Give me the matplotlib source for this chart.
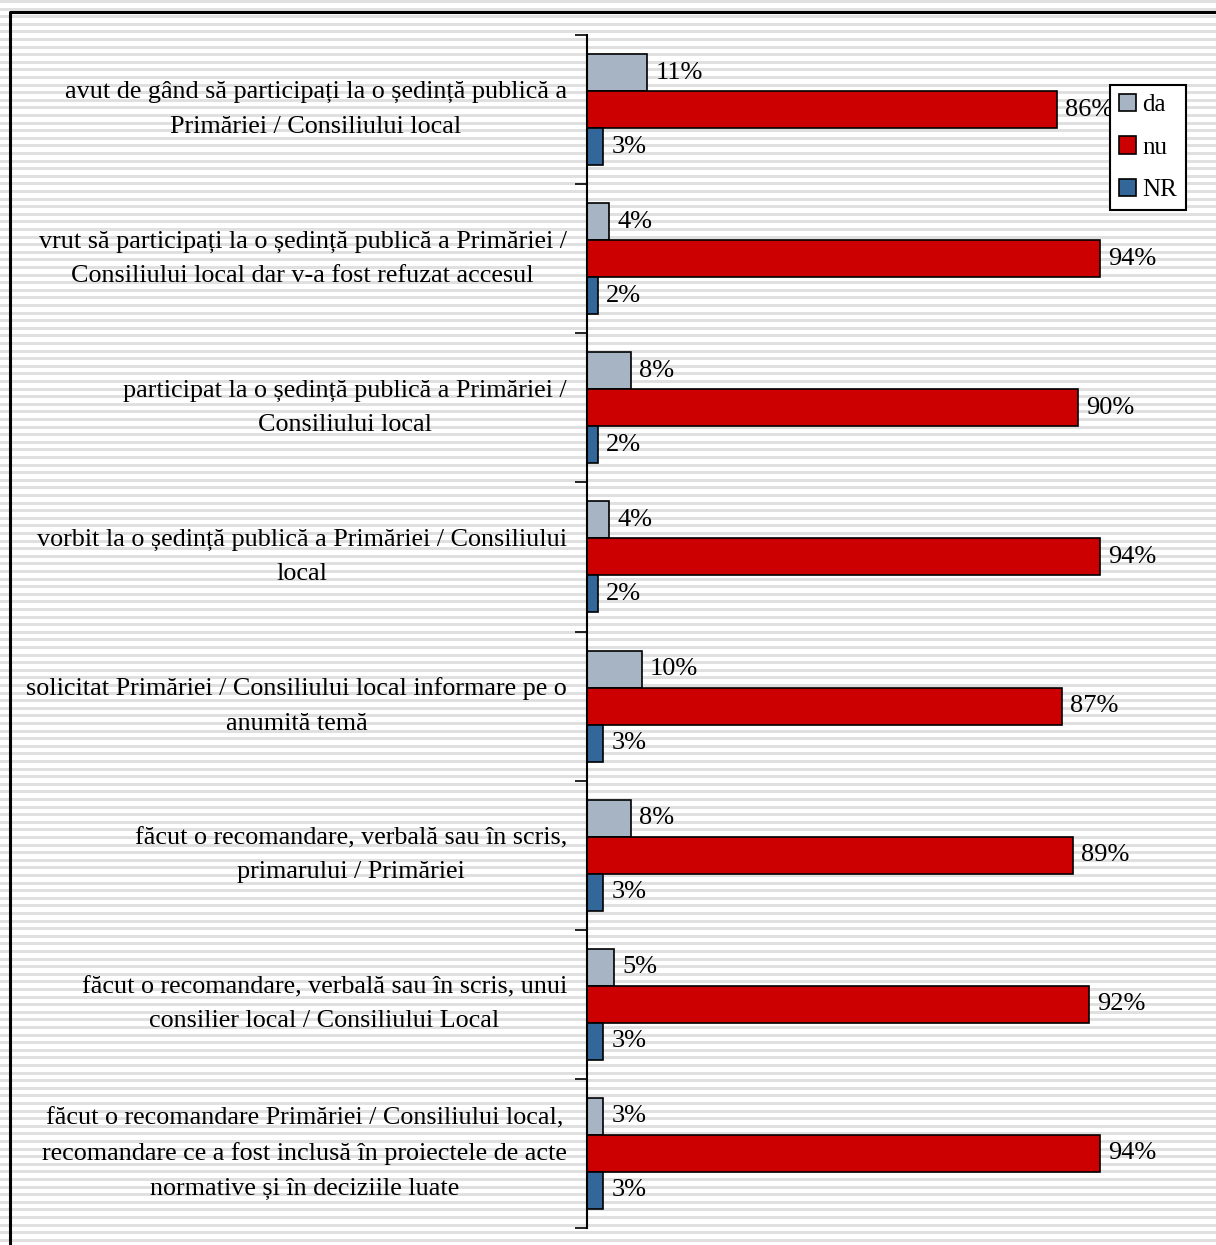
import matplotlib.pyplot as plt
import numpy as np
from matplotlib.patches import Rectangle

categories = [
    "avut de gând să participați la o ședință publică a\nPrimăriei / Consiliului local",
    "vrut să participați la o ședință publică a Primăriei /\nConsiliului local dar v-a fost refuzat accesul",
    "participat la o ședință publică a Primăriei /\nConsiliului local",
    "vorbit la o ședință publică a Primăriei / Consiliului\nlocal",
    "solicitat Primăriei / Consiliului local informare pe o\nanumită temă",
    "făcut o recomandare, verbală sau în scris,\nprimarului / Primăriei",
    "făcut o recomandare, verbală sau în scris, unui\nconsilier local / Consiliului Local",
    "făcut o recomandare Primăriei / Consiliului local,\nrecomandare ce a fost inclusă în proiectele de acte\nnormative și în deciziile luate",
]
da = [11, 4, 8, 4, 10, 8, 5, 3]
nu = [86, 94, 90, 94, 87, 89, 92, 94]
nr = [3, 2, 2, 2, 3, 3, 3, 3]
series = [("da", da, "#A6B4C3"), ("nu", nu, "#CC0000"), ("NR", nr, "#336699")]

plt.rcParams['font.family'] = ['Liberation Serif', 'DejaVu Serif']

W, H = 1216, 1245
fig = plt.figure(figsize=(W / 100, H / 100), dpi=100)

# striped background
bg = fig.add_axes([0, 0, 1, 1], zorder=-10)
bg.set_xlim(0, W)
bg.set_ylim(H, 0)
bg.axis('off')
for y in np.arange(0, H, 7.6):
    bg.add_patch(Rectangle((0, y), W, 3, color="#e0e0e0", lw=0))
bg.plot([10, 10, W + 5], [H + 5, 12, 12], color="black", lw=2.2)

ax = fig.add_axes([587 / W, 1 - 1228 / H, (1133 - 587) / W, (1228 - 35) / H])
ax.patch.set_alpha(0)
n = len(categories)
y = np.arange(n)
h = 0.248
for k, (name, vals, col) in enumerate(series):
    pos = y + (k - 1) * h
    ax.barh(pos, vals, height=h, color=col, edgecolor="black", lw=1.2, label=name)
    for p, v in zip(pos, vals):
        ax.text(v + 1.5, p, f"{v}%", va="center", ha="left", fontsize=19)

ax.set_xlim(0, 100)
ax.set_ylim(n - 0.5, -0.5)
ax.set_xticks([])
ax.set_yticks(np.arange(n + 1) - 0.5)
ax.set_yticklabels([])
ax.tick_params(axis='y', direction='out', length=9, width=1.2)
for s in ["top", "right", "bottom"]:
    ax.spines[s].set_visible(False)
ax.spines["left"].set_linewidth(1.5)
for i, c in enumerate(categories):
    ax.text(-3.7, i, c, ha="right", va="center", fontsize=18.8,
            multialignment="center", linespacing=1.72)

leg = ax.legend(loc="upper left", bbox_to_anchor=(1110 / W, 1 - 85 / H),
                bbox_transform=fig.transFigure, fontsize=18, frameon=True,
                fancybox=False, edgecolor="black", framealpha=1,
                handlelength=0.7, handleheight=0.7, handletextpad=0.25,
                labelspacing=0.8, borderpad=0.35, borderaxespad=0)
leg.get_frame().set_linewidth(1.5)

fig.savefig("out.png", dpi=100)
